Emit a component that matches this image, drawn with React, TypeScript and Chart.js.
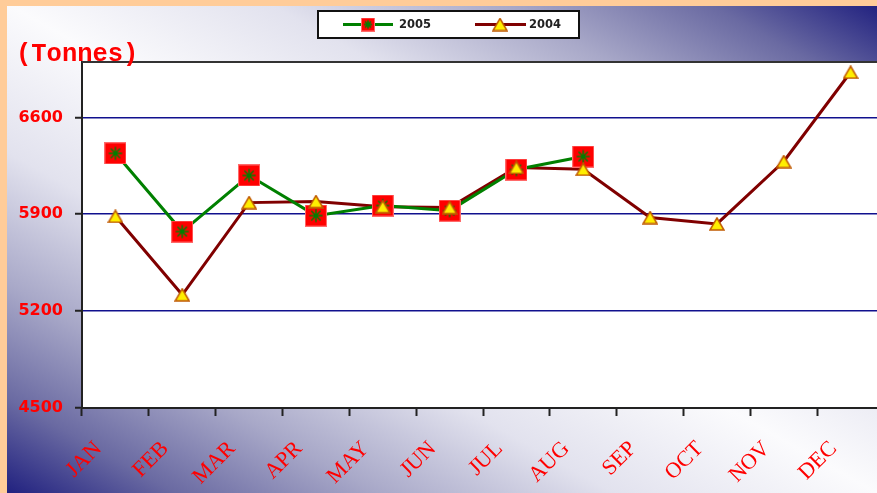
import React, { useEffect, useRef } from 'react';
import { Chart, registerables } from 'chart.js';
Chart.register(...registerables);

const months = ['JAN', 'FEB', 'MAR', 'APR', 'MAY', 'JUN', 'JUL', 'AUG', 'SEP', 'OCT', 'NOV', 'DEC'];
const yTicks = [4500, 5200, 5900, 6600];
const values2005 = [6340, 5775, 6180, 5890, 5963, 5926, 6223, 6317, null, null, null, null];
const values2004 = [5885, 5318, 5984, 5992, 5955, 5948, 6238, 6225, 5876, 5830, 6281, 6926];
const seriesNames = ['2005', '2004'];
const yTitle = '(Tonnes)';

const GREEN = '#008000';
const DARKRED = '#800000';

function makeSquare(size: number): HTMLCanvasElement {
  const c = document.createElement('canvas');
  c.width = size; c.height = size;
  const g = c.getContext('2d')!;
  g.fillStyle = '#ff0000';
  g.fillRect(0, 0, size, size);
  g.strokeStyle = '#ff6a6a';
  g.lineWidth = 1;
  g.strokeRect(0.5, 0.5, size - 1, size - 1);
  const m = size / 2;
  const r = size * 0.3;
  g.strokeStyle = GREEN;
  g.lineWidth = 1.5;
  g.beginPath();
  for (let i = 0; i < 4; i++) {
    const a = (i * Math.PI) / 4;
    g.moveTo(m - r * Math.cos(a), m - r * Math.sin(a));
    g.lineTo(m + r * Math.cos(a), m + r * Math.sin(a));
  }
  g.stroke();
  return c;
}

function makeTriangle(w: number, h: number): HTMLCanvasElement {
  const c = document.createElement('canvas');
  c.width = w + 2; c.height = h + 2;
  const g = c.getContext('2d')!;
  g.beginPath();
  g.moveTo((w + 2) / 2, 1);
  g.lineTo(w + 1, h + 1);
  g.lineTo(1, h + 1);
  g.closePath();
  g.fillStyle = '#ffee00';
  g.fill();
  g.strokeStyle = '#c05a00';
  g.lineWidth = 1.5;
  g.stroke();
  return c;
}

export default function App() {
  const ref = useRef<HTMLCanvasElement>(null);
  useEffect(() => {
    if (!ref.current) return;
    const sq = makeSquare(22);
    const tri = makeTriangle(14, 12);
    const sqSmall = makeSquare(14);

    const bgPlugin = {
      id: 'bgPlugin',
      beforeDraw(chart: any) {
        const ctx = chart.ctx;
        const H = 493;
        ctx.save();
        const grad = ctx.createLinearGradient(228, 621, 649, -128);
        grad.addColorStop(0, '#1e1e7e');
        grad.addColorStop(0.1, '#6a6aa2');
        grad.addColorStop(0.215, '#a8a8c8');
        grad.addColorStop(0.35, '#e2e2ee');
        grad.addColorStop(0.5, '#fbfbfd');
        grad.addColorStop(0.65, '#e2e2ee');
        grad.addColorStop(0.785, '#a8a8c8');
        grad.addColorStop(0.9, '#6a6aa2');
        grad.addColorStop(1, '#1e1e7e');
        ctx.fillStyle = grad;
        ctx.fillRect(0, 0, chart.width, H);
        ctx.fillStyle = '#ffcc99';
        ctx.fillRect(0, 0, chart.width, 6);
        ctx.fillRect(0, 0, 7, H);
        const a = chart.chartArea;
        ctx.fillStyle = '#ffffff';
        ctx.fillRect(a.left, a.top, a.right - a.left, a.bottom - a.top);
        ctx.restore();
      },
      afterDraw(chart: any) {
        const ctx = chart.ctx;
        const a = chart.chartArea;
        ctx.save();
        ctx.strokeStyle = '#333333';
        ctx.lineWidth = 2;
        ctx.beginPath();
        ctx.moveTo(a.left, a.top);
        ctx.lineTo(a.right, a.top);
        ctx.stroke();
        ctx.fillStyle = '#ff0000';
        ctx.font = 'bold 25.5px "Liberation Mono"';
        ctx.textBaseline = 'alphabetic';
        ctx.textAlign = 'left';
        ctx.fillText(yTitle, 16, 61);
        ctx.fillStyle = '#ffffff';
        ctx.fillRect(318, 11, 261, 27);
        ctx.strokeStyle = '#111111';
        ctx.lineWidth = 2;
        ctx.strokeRect(318, 11, 261, 27);
        const ly = 24.5;
        ctx.lineWidth = 3;
        ctx.strokeStyle = GREEN;
        ctx.beginPath(); ctx.moveTo(343, ly); ctx.lineTo(393, ly); ctx.stroke();
        ctx.drawImage(sqSmall, 368 - 7, ly - 7);
        ctx.strokeStyle = DARKRED;
        ctx.beginPath(); ctx.moveTo(475, ly); ctx.lineTo(526, ly); ctx.stroke();
        ctx.drawImage(tri, 500 - 8, ly - 7, 16, 14);
        ctx.fillStyle = '#222222';
        ctx.font = 'bold 11.5px "DejaVu Sans"';
        ctx.textBaseline = 'middle';
        ctx.fillText(seriesNames[0], 399, ly + 0.5);
        ctx.fillText(seriesNames[1], 529, ly + 0.5);
        ctx.restore();
      },
    };

    const chart = new Chart(ref.current, {
      type: 'line',
      data: {
        labels: months,
        datasets: [
          {
            label: seriesNames[1] + ' points',
            data: values2004,
            showLine: false,
            pointStyle: tri as any,
            pointRadius: 8,
            order: 0,
          },
          {
            label: seriesNames[0],
            data: values2005,
            borderColor: GREEN,
            borderWidth: 3,
            pointStyle: sq as any,
            pointRadius: 11,
            tension: 0,
            spanGaps: false,
            order: 1,
          },
          {
            label: seriesNames[1],
            data: values2004,
            borderColor: DARKRED,
            borderWidth: 3,
            pointRadius: 0,
            tension: 0,
            order: 2,
          },
        ],
      },
      options: {
        responsive: false,
        devicePixelRatio: 1,
        animation: false,
        events: [],
        layout: { padding: { top: 62, right: 2, left: 0, bottom: 0 } },
        plugins: { legend: { display: false }, tooltip: { enabled: false } },
        scales: {
          x: {
            type: 'category',
            offset: true,
            grid: {
              offset: true,
              drawOnChartArea: false,
              tickLength: 8,
              tickColor: '#222222',
              tickWidth: 2,
            },
            border: { color: '#222222', width: 2 },
            ticks: {
              color: '#ff0000',
              font: { family: '"Liberation Serif"', size: 22 },
              minRotation: 45,
              maxRotation: 45,
              autoSkip: false,
              padding: 20,
              labelOffset: -17,
            },
            afterFit: (s: any) => { s.height = 85; },
          },
          y: {
            min: 4500,
            max: 7000,
            afterBuildTicks: (ax: any) => { ax.ticks = yTicks.map((v) => ({ value: v })); },
            grid: {
              color: (c: any) => (c.tick && c.tick.value === 4500 ? '#222222' : '#10108e'),
              lineWidth: 1.5,
              tickLength: 7,
              tickColor: '#222222',
              tickWidth: 2,
            },
            border: { color: '#222222', width: 2 },
            ticks: {
              color: '#ff0000',
              font: { family: '"DejaVu Sans"', weight: 'bold', size: 16 },
              padding: 12,
              callback: (v: any) => String(v),
            },
            afterFit: (s: any) => { s.width = 82; },
          },
        },
      },
      plugins: [bgPlugin],
    } as any);
    return () => chart.destroy();
  }, []);

  return (
    <div style={{ position: 'fixed', left: 0, top: 0, width: 877, height: 493, overflow: 'hidden' }}>
      <canvas ref={ref} width={898} height={493} style={{ display: 'block', width: 898, height: 493 }} />
    </div>
  );
}
